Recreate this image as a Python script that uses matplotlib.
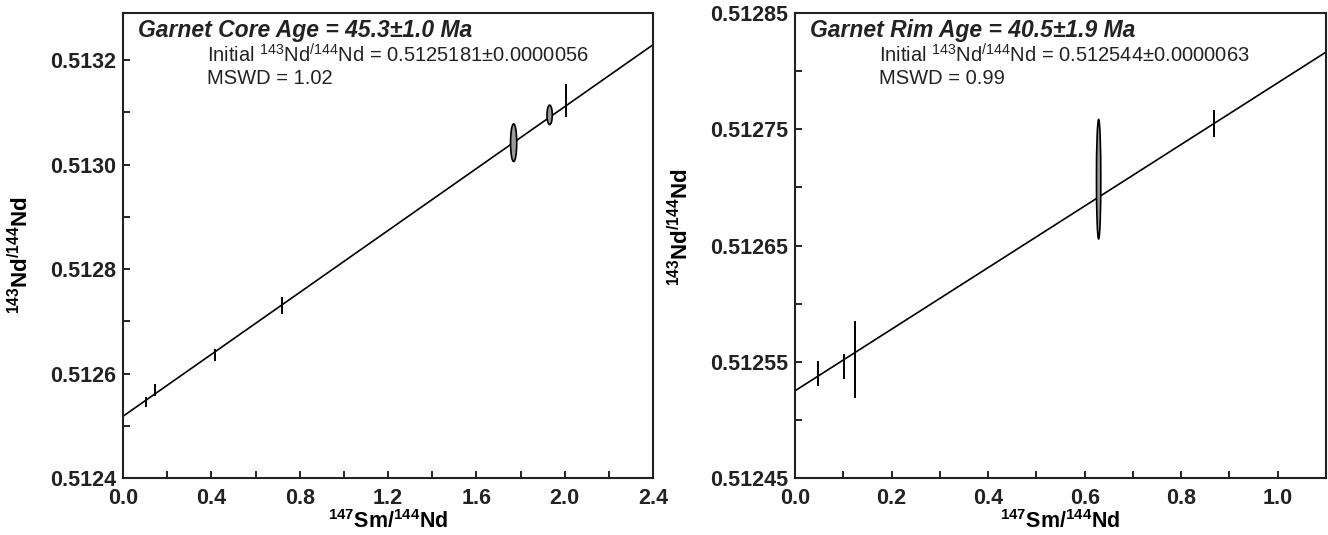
import matplotlib.pyplot as plt
from matplotlib.patches import Ellipse
from matplotlib.ticker import MultipleLocator, FormatStrFormatter

plt.rcParams['font.family'] = ['Liberation Sans', 'DejaVu Sans']
plt.rcParams['mathtext.default'] = 'regular'

# garnet core: error-bar points (x, y, 2s of y)
core_x = [0.102, 0.146, 0.416, 0.720, 2.006]
core_y = [0.5125455, 0.512568, 0.512635, 0.512730, 0.513122]
core_err = [0.0000096, 0.000011, 0.000011, 0.000017, 0.000032]
# garnet core: ellipses (x, y, half-width in x, half-height in y)
core_ell_x = [1.769, 1.932]
core_ell_y = [0.5130417, 0.513095]
core_ell_w = [0.014, 0.012]
core_ell_h = [0.000036, 0.0000186]
core_intercept = 0.5125181
core_slope = 2.963e-4

# garnet rim
rim_x = [0.047, 0.102, 0.124, 0.869]
rim_y = [0.512540, 0.512546, 0.512552, 0.512755]
rim_err = [0.0000107, 0.0000107, 0.000033, 0.0000118]
rim_ell_x = [0.629]
rim_ell_y = [0.512707]
rim_ell_w = [0.0045]
rim_ell_h = [0.0000513]
rim_intercept = 0.512525
rim_slope = 2.649e-4

fig = plt.figure(figsize=(13.28, 5.35), dpi=100)
W, H = 1328, 535
ax1 = fig.add_axes([123 / W, (H - 478) / H, 530 / W, 465 / H])
ax2 = fig.add_axes([795 / W, (H - 478) / H, 531 / W, 465 / H])


def draw(ax, xs, ys, errs, ex, ey, ew, eh, b, m, xmax, ymin, ymax):
    ax.plot([0, xmax], [b, b + m * xmax], color='k', lw=1.2, zorder=2)
    ax.errorbar(xs, ys, yerr=errs, fmt='none', ecolor='k', elinewidth=1.4, capsize=0, zorder=3)
    for x, y, w, h in zip(ex, ey, ew, eh):
        ax.add_patch(Ellipse((x, y), 2 * w, 2 * h, facecolor='#9a9a9a', edgecolor='k', lw=1.2, zorder=4))
    ax.set_xlim(0, xmax)
    ax.set_ylim(ymin, ymax)
    for s in ax.spines.values():
        s.set_linewidth(1.5)
        s.set_color('#222222')
    ax.tick_params(which='both', direction='in', length=5, width=1.2, labelsize=15.5)
    ax.tick_params(axis='x', pad=7)
    ax.tick_params(axis='y', pad=5)
    ax.set_xlabel('$^{147}$Sm/$^{144}$Nd', fontsize=15.5, fontweight='bold', labelpad=1)
    ax.set_ylabel('$^{143}$Nd$^{/144}$Nd', fontsize=16, fontweight='bold')


draw(ax1, core_x, core_y, core_err, core_ell_x, core_ell_y, core_ell_w, core_ell_h,
     core_intercept, core_slope, 2.4, 0.5124, 0.51329)
ax1.xaxis.set_major_locator(MultipleLocator(0.4))
ax1.xaxis.set_minor_locator(MultipleLocator(0.2))
ax1.yaxis.set_major_locator(MultipleLocator(0.0002))
ax1.yaxis.set_minor_locator(MultipleLocator(0.0001))
ax1.xaxis.set_major_formatter(FormatStrFormatter('%.1f'))
ax1.yaxis.set_major_formatter(FormatStrFormatter('%.4f'))
ax1.yaxis.set_label_coords(-0.170, 0.48)

draw(ax2, rim_x, rim_y, rim_err, rim_ell_x, rim_ell_y, rim_ell_w, rim_ell_h,
     rim_intercept, rim_slope, 1.1, 0.51245, 0.51285)
ax2.xaxis.set_major_locator(MultipleLocator(0.2))
ax2.xaxis.set_minor_locator(MultipleLocator(0.1))
ax2.yaxis.set_major_locator(MultipleLocator(0.0001, offset=0.00005))
ax2.yaxis.set_minor_locator(MultipleLocator(0.00005))
ax2.xaxis.set_major_formatter(FormatStrFormatter('%.1f'))
ax2.yaxis.set_major_formatter(FormatStrFormatter('%.5f'))
ax2.yaxis.set_label_coords(-0.192, 0.54)

for ax in (ax1, ax2):
    for lab in ax.get_xticklabels() + ax.get_yticklabels():
        lab.set_fontweight('bold')
        lab.set_color('#222222')

ax1.text(0.028, 0.948, 'Garnet Core Age = 45.3±1.0 Ma', transform=ax1.transAxes,
         fontsize=16.5, fontweight='bold', style='italic', va='baseline', color='#222222')
ax1.text(0.158, 0.8946, 'Initial $^{143}$Nd$^{/144}$Nd = 0.5125181±0.0000056',
         transform=ax1.transAxes, fontsize=14.5, va='baseline', color='#222222')
ax1.text(0.158, 0.847, 'MSWD = 1.02', transform=ax1.transAxes, fontsize=14.5,
         va='baseline', color='#222222')
ax2.text(0.028, 0.948, 'Garnet Rim Age = 40.5±1.9 Ma', transform=ax2.transAxes,
         fontsize=16.5, fontweight='bold', style='italic', va='baseline', color='#222222')
ax2.text(0.158, 0.8946, 'Initial $^{143}$Nd$^{/144}$Nd = 0.512544±0.0000063',
         transform=ax2.transAxes, fontsize=14.5, va='baseline', color='#222222')
ax2.text(0.158, 0.847, 'MSWD = 0.99', transform=ax2.transAxes, fontsize=14.5,
         va='baseline', color='#222222')

fig.savefig('out.png', dpi=100)
